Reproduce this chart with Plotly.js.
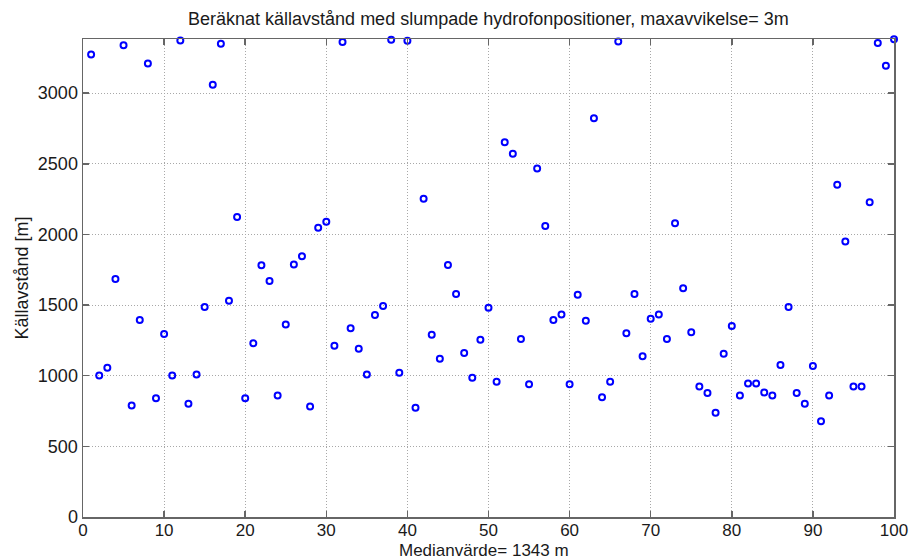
<!DOCTYPE html>
<html>
<head>
<meta charset="utf-8">
<script src="https://cdn.plot.ly/plotly-3.0.1.min.js"></script>
<style>
  html, body { margin: 0; padding: 0; background: #fff; }
  #chart { width: 913px; height: 560px; }
</style>
</head>
<body>
<div id="chart"></div>
<script>
// Hydrophone trial number (1..100)
const trial = Array.from({length: 100}, (_, i) => i + 1);

// Computed source distance [m] per trial
const distance = [
  3274, 1002, 1056, 1685, 3338,  789, 1394, 3210,  841, 1295,
  1002, 3373,  801, 1009, 1486, 3059, 3350, 1531, 2124,  841,
  1229, 1782, 1670,  860, 1363, 1787, 1845,  782, 2048, 2089,
  1212, 3362, 1335, 1190, 1009, 1429, 1493, 3378, 1021, 3371,
   773, 2252, 1290, 1120, 1783, 1578, 1160,  985, 1254, 1481,
   957, 2653, 2571, 1259,  940, 2466, 2060, 1394, 1434,  940,
  1573, 1389, 2823,  848,  957, 3366, 1300, 1578, 1138, 1403,
  1434, 1259, 2079, 1619, 1307,  924,  877,  737, 1155, 1352,
   860,  945,  945,  882,  860, 1075, 1486,  877,  801, 1068,
   678,  860, 2351, 1949,  924,  924, 2228, 3355, 3194, 3381
];

const xTicks = [0, 10, 20, 30, 40, 50, 60, 70, 80, 90, 100];
const yTicks = [0, 500, 1000, 1500, 2000, 2500, 3000];

const titleText = 'Beräknat källavstånd med slumpade hydrofonpositioner, maxavvikelse= 3m';
const xLabel = 'Medianvärde= 1343 m';
const yLabel = 'Källavstånd [m]';

const font = 'Liberation Sans, Arial, sans-serif';
const ink = '#1a1a1a';

const axisCommon = {
  showline: true,
  linecolor: '#666',
  linewidth: 1.5,
  mirror: 'ticks',
  ticks: 'inside',
  ticklen: 6,
  tickwidth: 1.5,
  tickcolor: '#666',
  showgrid: true,
  gridcolor: '#a8a8a8',
  griddash: '1px,2px',
  gridwidth: 1,
  zeroline: false,
  tickfont: {family: font, size: 18, color: ink}
};

const trace = {
  x: trial,
  y: distance,
  type: 'scatter',
  mode: 'markers',
  marker: {
    symbol: 'circle-open',
    size: 6,
    color: '#0000ff',
    line: {color: '#0000ff', width: 2}
  },
  cliponaxis: false,
  hoverinfo: 'x+y'
};

const layout = {
  width: 913,
  height: 560,
  margin: {l: 83, r: 19, t: 39, b: 43},
  paper_bgcolor: '#fff',
  plot_bgcolor: '#fff',
  showlegend: false,
  title: {
    text: titleText,
    font: {family: font, size: 18, color: ink},
    x: 0.535, xanchor: 'center',
    y: 0.966, yanchor: 'middle'
  },
  xaxis: Object.assign({}, axisCommon, {
    range: [0, 100],
    tickvals: xTicks,
    ticktext: xTicks.map(String),
    tickfont: {family: font, size: 17, color: ink},
    ticklabelstandoff: -3
  }),
  yaxis: Object.assign({}, axisCommon, {
    range: [0, 3383],
    tickvals: yTicks,
    ticktext: yTicks.map(String),
    title: {text: yLabel, font: {family: font, size: 18, color: ink}, standoff: 4}
  }),
  // x-axis caption placed just under the tick labels
  annotations: [{
    text: xLabel,
    xref: 'paper', yref: 'paper',
    x: 0.495, y: -0.092,
    xanchor: 'center', yanchor: 'bottom',
    showarrow: false,
    borderpad: 0,
    font: {family: font, size: 17, color: ink}
  }]
};

Plotly.newPlot('chart', [trace], layout, {displayModeBar: false, staticPlot: true});
</script>
</body>
</html>
